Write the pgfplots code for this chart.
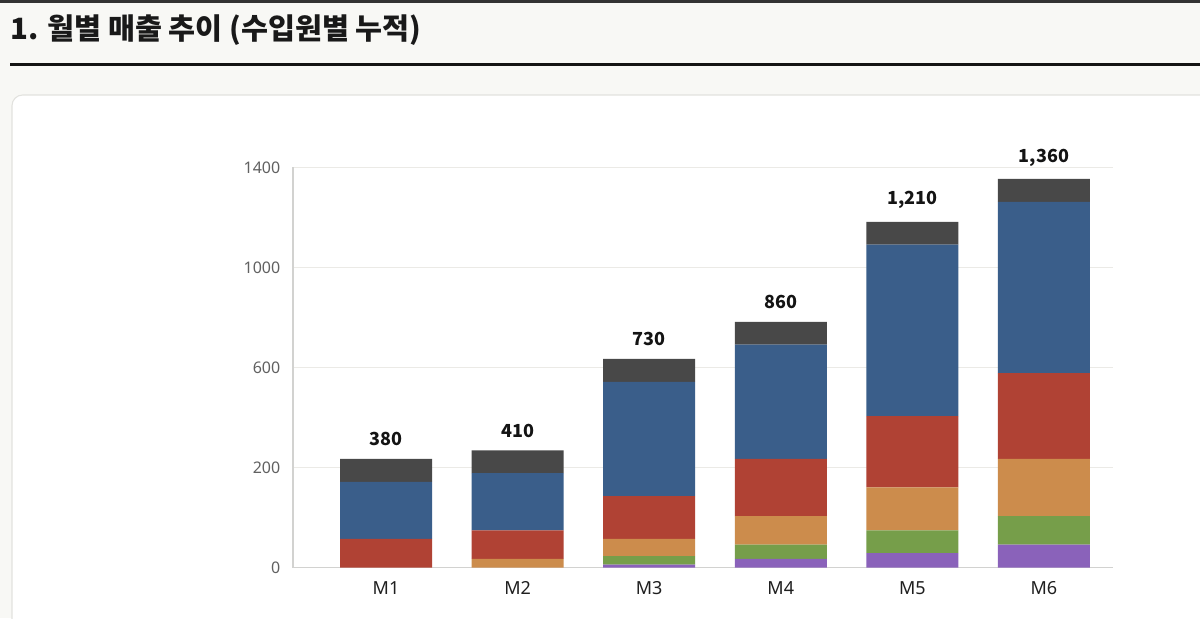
\documentclass[border=0pt]{standalone}
\usepackage{fontspec}
\setmainfont{Noto Sans}
\newfontfamily\kr{Noto Sans CJK KR}
\usepackage{pgfplots}
\pgfplotsset{compat=1.18}
\definecolor{bgc}{HTML}{F8F8F5}
\definecolor{topbar}{HTML}{333333}
\definecolor{cardborder}{HTML}{E2E2DE}
\definecolor{cdark}{HTML}{484848}
\definecolor{cblue}{HTML}{3A5E8A}
\definecolor{cred}{HTML}{B04234}
\definecolor{corange}{HTML}{CC8C4C}
\definecolor{cgreen}{HTML}{769E4A}
\definecolor{cpurple}{HTML}{8A62BA}
\definecolor{gridc}{HTML}{EBEAE6}
\definecolor{axisc}{HTML}{D2D2D0}
\begin{document}
\begin{tikzpicture}[x=0.75pt,y=0.75pt]
\useasboundingbox (0,0) rectangle (1200,618);
\fill[bgc] (0,0) rectangle (1200,618);
\fill[topbar] (0,615) rectangle (1200,618);
\node[anchor=west, inner sep=0pt, font=\kr\bfseries\fontsize{22}{26}\selectfont, text=black!90] at (10,588) {1. 월별 매출 추이 (수입원별 누적)};
\fill[black!92] (10,552) rectangle (1200,554.5);
\begin{scope}
\clip (0,0) rectangle (1200,618);
\draw[cardborder, line width=0.8pt, fill=white, rounded corners=8pt] (12,523) rectangle (1240,-40);
\end{scope}
\begin{axis}[
  at={(219.75pt,37.875pt)}, anchor=south west,
  scale only axis, width=615pt, height=300pt,
  ybar stacked, bar width=69pt,
  xmin=-0.707, xmax=5.525, ymin=0, ymax=1400,
  xtick={0,1,2,3,4,5}, xticklabels={M1,M2,M3,M4,M5,M6},
  ytick={0,350,700,1050,1400}, yticklabels={0,200,600,1000,1400},
  major tick length=0pt,
  /pgf/number format/assume math mode=true,
  axis x line*=bottom, axis y line*=left,
  axis line style={axisc, line width=0.8pt},
  ymajorgrids, grid style={gridc, line width=0.8pt},
  xticklabel style={font=\fontsize{13.5}{16}\selectfont, text=black!88, yshift=-7pt},
  yticklabel style={font=\fontsize{12}{14}\selectfont, text=black!62, xshift=-6pt},
  every axis plot/.append style={draw=none},
]
\addplot[fill=cpurple] coordinates {(0,0) (1,0) (2,10) (3,30) (4,50) (5,80)};
\addplot[fill=cgreen] coordinates {(0,0) (1,0) (2,30) (3,50) (4,80) (5,100)};
\addplot[fill=corange] coordinates {(0,0) (1,30) (2,60) (3,100) (4,150) (5,200)};
\addplot[fill=cred] coordinates {(0,100) (1,100) (2,150) (3,200) (4,250) (5,300)};
\addplot[fill=cblue] coordinates {(0,200) (1,200) (2,400) (3,400) (4,600) (5,600)};
\addplot[fill=cdark, point meta=explicit,
  nodes near coords={\pgfmathprintnumber[1000 sep={,}, assume math mode=true]{\pgfplotspointmeta}},
  nodes near coords style={font=\kr\bfseries\fontsize{13.5}{16}\selectfont, text=black!92, anchor=south, inner sep=2pt, yshift=16pt}]
  coordinates {(0,80) [380] (1,80) [410] (2,80) [730] (3,80) [860] (4,80) [1210] (5,80) [1360]};
\end{axis}
\end{tikzpicture}
\end{document}
